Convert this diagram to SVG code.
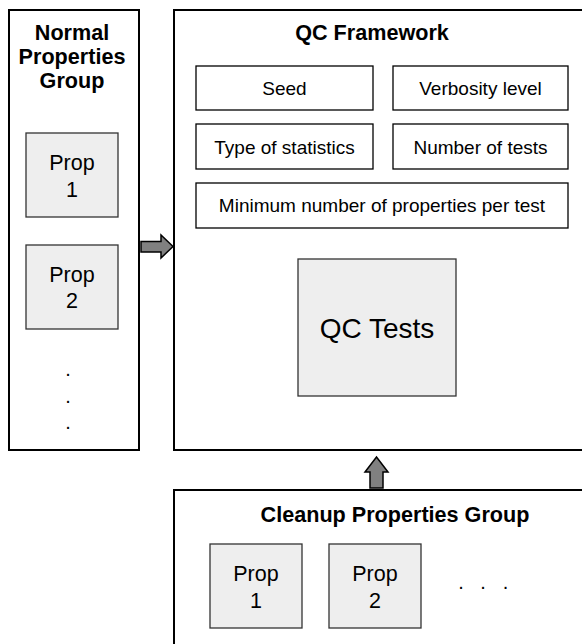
<svg xmlns="http://www.w3.org/2000/svg" width="582" height="644" viewBox="0 0 582 644">
  <style>
    .frame { fill: #ffffff; stroke: #000000; stroke-width: 2; }
    .param { fill: #ffffff; stroke: #000000; stroke-width: 1.3; }
    .prop { fill: #eeeeee; stroke: #333333; stroke-width: 1.3; }
    .title { font-family: "Liberation Sans", Arial, sans-serif; font-weight: bold; font-size: 21.6px; fill: #000000; text-anchor: middle; }
    .label { font-family: "Liberation Sans", Arial, sans-serif; font-size: 19px; fill: #000000; text-anchor: middle; }
    .proplabel { font-family: "Liberation Sans", Arial, sans-serif; font-size: 21.5px; fill: #000000; text-anchor: middle; }
    .big { font-family: "Liberation Sans", Arial, sans-serif; font-size: 28px; fill: #000000; text-anchor: middle; }
    .dots { font-family: "Liberation Sans", Arial, sans-serif; font-size: 20px; fill: #000000; text-anchor: middle; }
    .arrow { fill: #808080; stroke: #000000; stroke-width: 1.5; stroke-linejoin: miter; }
  </style>

  <rect width="582" height="644" fill="#ffffff"/>

  <!-- Normal properties group -->
  <g id="normal-group">
    <rect class="frame" x="9" y="10" width="130" height="440"/>
    <text class="title" x="72" y="40">Normal</text>
    <text class="title" x="72" y="64">Properties</text>
    <text class="title" x="72" y="88">Group</text>
  </g>
  <g id="normal-prop1">
    <rect class="prop" x="26" y="133" width="92" height="84"/>
    <text class="proplabel" x="72" y="170">Prop</text>
    <text class="proplabel" x="72" y="197">1</text>
  </g>
  <g id="normal-prop2">
    <rect class="prop" x="26" y="245" width="92" height="84"/>
    <text class="proplabel" x="72" y="282">Prop</text>
    <text class="proplabel" x="72" y="308">2</text>
  </g>
  <g id="normal-more">
    <text class="dots" x="68" y="376">.</text>
    <text class="dots" x="68" y="402.5">.</text>
    <text class="dots" x="68" y="429">.</text>
  </g>

  <!-- QC framework -->
  <g id="qc-framework">
    <rect class="frame" x="174" y="10" width="430" height="440"/>
    <text class="title" x="372" y="40">QC Framework</text>
  </g>
  <g id="seed">
    <rect class="param" x="196" y="66" width="177" height="44"/>
    <text class="label" x="284.5" y="95">Seed</text>
  </g>
  <g id="verbosity">
    <rect class="param" x="393" y="66" width="175" height="44"/>
    <text class="label" x="480.5" y="95">Verbosity level</text>
  </g>
  <g id="statistics">
    <rect class="param" x="196" y="124" width="177" height="45"/>
    <text class="label" x="284.5" y="154">Type of statistics</text>
  </g>
  <g id="num-tests">
    <rect class="param" x="393" y="124" width="175" height="45"/>
    <text class="label" x="480.5" y="154">Number of tests</text>
  </g>
  <g id="min-props">
    <rect class="param" x="196" y="183" width="372" height="45"/>
    <text class="label" x="382" y="212">Minimum number of properties per test</text>
  </g>
  <g id="qc-tests">
    <rect class="prop" x="298" y="259" width="158" height="137"/>
    <text class="big" x="377" y="338">QC Tests</text>
  </g>

  <!-- Cleanup properties group -->
  <g id="cleanup-group">
    <rect class="frame" x="174" y="490" width="430" height="180"/>
    <text class="title" x="395" y="522">Cleanup Properties Group</text>
  </g>
  <g id="cleanup-prop1">
    <rect class="prop" x="210" y="544" width="92" height="84"/>
    <text class="proplabel" x="256" y="581">Prop</text>
    <text class="proplabel" x="256" y="608">1</text>
  </g>
  <g id="cleanup-prop2">
    <rect class="prop" x="329" y="544" width="92" height="84"/>
    <text class="proplabel" x="375" y="581">Prop</text>
    <text class="proplabel" x="375" y="608">2</text>
  </g>
  <g id="cleanup-more">
    <text class="dots" x="461" y="588.5">.</text>
    <text class="dots" x="483" y="588.5">.</text>
    <text class="dots" x="505.5" y="588.5">.</text>
  </g>

  <!-- Connectors -->
  <g id="connectors">
    <polygon class="arrow" points="141,241.5 161,241.5 161,235 173,246.5 161,258 161,252 141,252"/>
    <polygon class="arrow" points="370,488 370,472 365,472 376.5,457 388,472 383,472 383,488"/>
  </g>
</svg>
